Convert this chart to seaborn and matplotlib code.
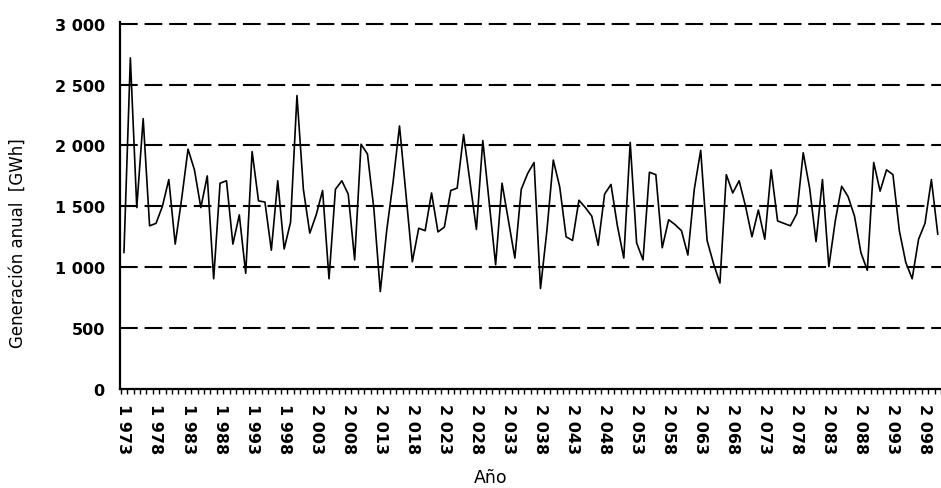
import matplotlib
matplotlib.use("Agg")
import matplotlib.pyplot as plt
import seaborn as sns
import pandas as pd

# Annual generation per year (GWh)
years = list(range(1973, 2101))
generation = [
    1120, 2720, 1490, 2220, 1340, 1360, 1500, 1720, 1190, 1560,
    1970, 1800, 1490, 1750, 905, 1690, 1710, 1190, 1430, 950,
    1950, 1545, 1535, 1140, 1710, 1150, 1370, 2410, 1640, 1280,
    1430, 1630, 905, 1640, 1710, 1600, 1060, 2010, 1930, 1480,
    800, 1300, 1700, 2160, 1600, 1045, 1320, 1300, 1610, 1290,
    1330, 1630, 1650, 2090, 1700, 1310, 2040, 1530, 1020, 1690,
    1380, 1075, 1640, 1770, 1860, 825, 1300, 1880, 1660, 1250,
    1220, 1550, 1490, 1420, 1180, 1600, 1680, 1340, 1075, 2025,
    1200, 1060, 1780, 1760, 1160, 1390, 1350, 1300, 1100, 1640,
    1960, 1220, 1030, 870, 1760, 1610, 1710, 1500, 1250, 1470,
    1230, 1800, 1380, 1360, 1340, 1440, 1940, 1650, 1210, 1720,
    1005, 1380, 1665, 1580, 1420, 1120, 975, 1860, 1625, 1800,
    1760, 1300, 1040, 905, 1230, 1360, 1720, 1270,
]
y_ticks = [0, 500, 1000, 1500, 2000, 2500, 3000]
label_years = years[::5]

df = pd.DataFrame({"year": years, "gen": generation})

sns.set_style("white")
plt.rcParams["font.family"] = ["DejaVu Sans"]
plt.rcParams["text.color"] = "black"
plt.rcParams["axes.labelcolor"] = "black"

fig = plt.figure(figsize=(9.41, 4.89), dpi=100)
ax = fig.add_axes([0.1275, 0.2025, 0.8725, 0.7507])

# dashed horizontal gridlines
for v in y_ticks[1:]:
    ax.axhline(v, color="black", lw=1.5, ls=(0, (8.5, 3.3)), zorder=1)

sns.lineplot(data=df, x="year", y="gen", color="black", lw=1.2, ax=ax, zorder=3)

ax.set_xlim(1972.38, 2100.06)
ax.set_ylim(0, 3015)

def fmt(v):
    return f"{v // 1000} {v % 1000:03d}" if v >= 1000 else str(v)

ax.set_yticks(y_ticks)
ax.set_yticklabels([fmt(v) for v in y_ticks], fontsize=11.5, fontweight="bold")
ax.set_xticks(label_years)
ax.set_xticklabels([fmt(v) for v in label_years], rotation=270,
                   fontsize=11.5, fontweight="bold")
ax.set_xticks([y - 0.5 for y in years] + [years[-1] + 0.5], minor=True)

ax.tick_params(axis="y", direction="out", length=5, width=1.3, pad=6, colors="black")
ax.tick_params(axis="x", which="major", length=0, pad=10, colors="black")
ax.tick_params(axis="x", which="minor", direction="out", length=3.5, width=1.0,
               bottom=True, colors="black")

for side in ["top", "right"]:
    ax.spines[side].set_visible(False)
for side in ["left", "bottom"]:
    ax.spines[side].set_color("black")
    ax.spines[side].set_linewidth(1.6)

ax.set_xlabel("Año", fontsize=12.5)
ax.set_ylabel("Generación anual  [GWh]", fontsize=12)
ax.xaxis.set_label_coords(0.451, -0.215)
ax.yaxis.set_label_coords(-0.114, 0.40)

fig.savefig("out.png", dpi=100)
